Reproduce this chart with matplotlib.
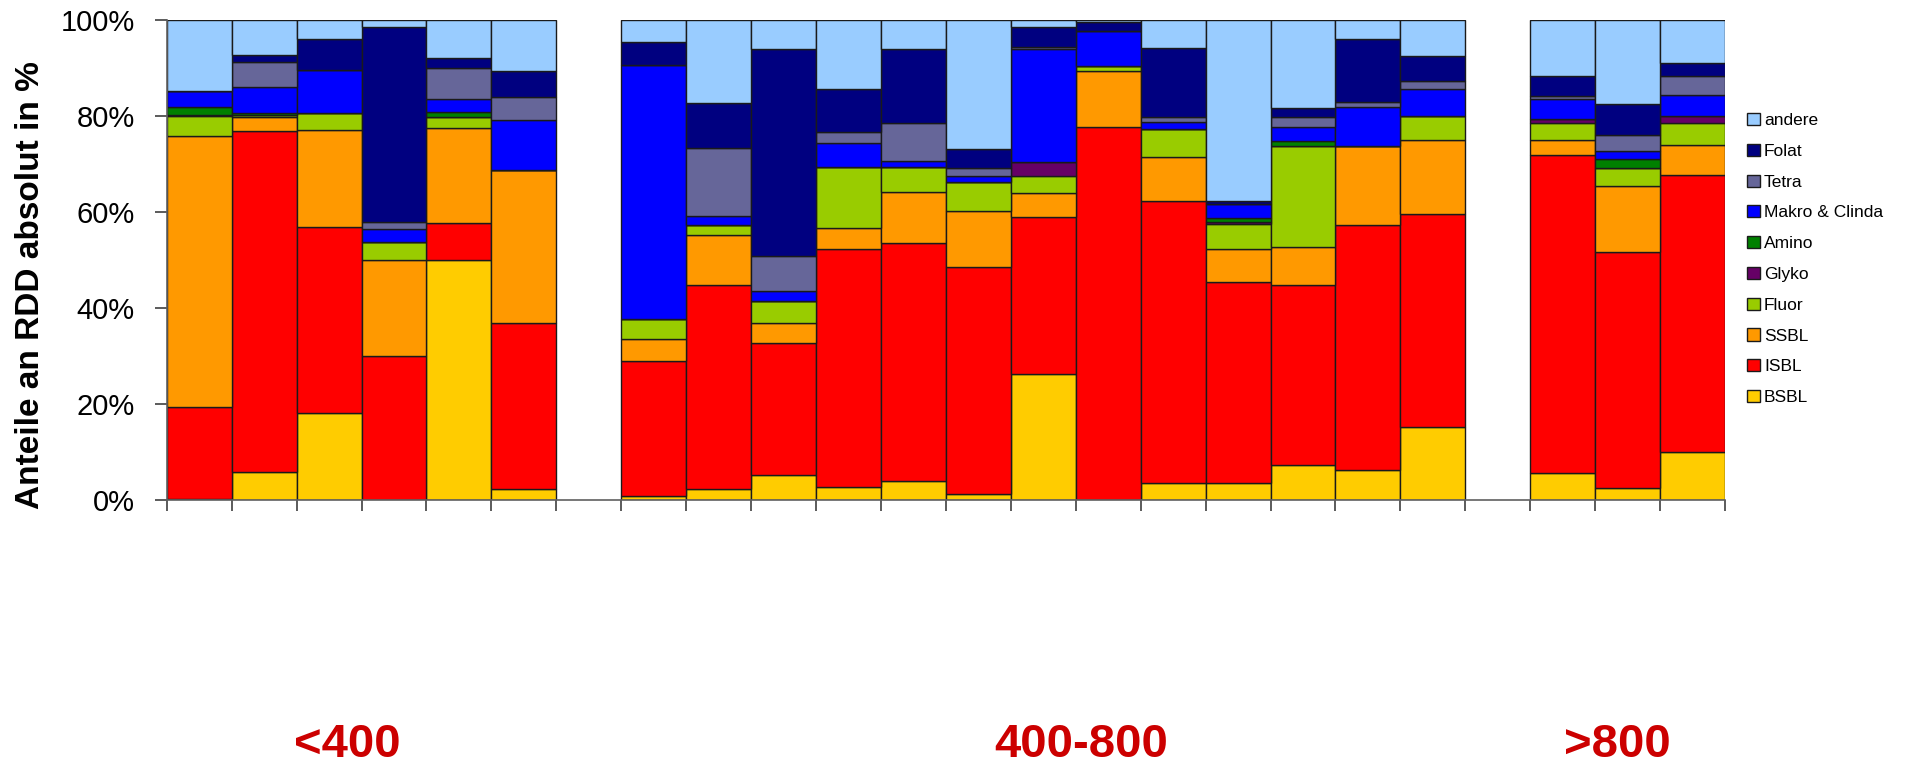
import numpy as np
import matplotlib.pyplot as plt

plt.rcParams['font.family'] = ['Liberation Sans', 'DejaVu Sans']

# slot of each bar on the category axis (6 | gap | 13 | gap | 3)
slots = [0, 1, 2, 3, 4, 5,
         7, 8, 9, 10, 11, 12, 13, 14, 15, 16, 17, 18, 19,
         21, 22, 23]

series = ['BSBL', 'ISBL', 'SSBL', 'Fluor', 'Glyko', 'Amino',
          'Makro & Clinda', 'Tetra', 'Folat', 'andere']
colors = ['#FFCC00', '#FF0000', '#FF9900', '#99CC00', '#660066', '#008000',
          '#0000FF', '#666699', '#000080', '#99CCFF']

bsbl = [0.3, 5.9, 18.2, 0, 49.9, 2.2,
        0.8, 2.2, 5.2, 2.6, 4.0, 1.3, 26.3, 0, 3.5, 3.5, 7.2, 6.3, 15.1,
        5.6, 2.4, 9.9]
isbl = [19.1, 71.0, 38.7, 30.0, 7.7, 34.6,
        28.2, 42.6, 27.4, 49.6, 49.5, 47.3, 32.6, 77.6, 58.7, 42.0, 37.5, 51.0, 44.4,
        66.3, 49.3, 57.7]
ssbl = [56.4, 2.8, 20.2, 19.9, 19.8, 32.0,
        4.5, 10.4, 4.3, 4.5, 10.6, 11.6, 5.0, 11.8, 9.3, 6.7, 7.9, 16.5, 15.4,
        3.1, 13.6, 6.4]
fluor = [4.1, 0.5, 3.6, 3.9, 2.3, 0,
         4.3, 2.1, 4.6, 12.7, 5.3, 6.1, 3.5, 0.9, 5.8, 5.2, 21.2, 0, 5.1,
         3.5, 3.8, 4.6]
glyko = [0.3, 0, 0, 0, 0, 0,
         0, 0, 0, 0, 0, 0, 2.9, 0, 0, 0.6, 0, 0, 0,
         0.8, 0, 1.3]
amino = [1.6, 0.4, 0, 0, 1.2, 0,
         0, 0, 0, 0, 0, 0, 0, 0, 0, 0.7, 0.9, 0, 0,
         0, 1.9, 0]
makro = [3.3, 5.5, 8.9, 2.7, 2.6, 10.4,
         52.8, 1.9, 2.1, 5.0, 1.3, 1.2, 23.6, 7.3, 1.4, 2.9, 2.9, 8.1, 5.6,
         4.2, 1.6, 4.5]
tetra = [0, 5.2, 0, 1.5, 6.4, 4.8,
         0, 14.2, 7.2, 2.2, 7.9, 1.6, 0.5, 0, 1.0, 0, 2.1, 1.1, 1.6,
         0.7, 3.4, 3.9]
folat = [0, 1.4, 6.4, 40.6, 2.1, 5.4,
         4.7, 9.2, 43.1, 9.0, 15.3, 4.0, 4.2, 2.0, 14.5, 0.6, 1.9, 13.0, 5.3,
         4.1, 6.5, 2.7]
andere = [14.9, 7.3, 4.0, 1.4, 8.0, 10.6,
          4.7, 17.4, 6.1, 14.4, 6.1, 26.9, 1.4, 0.4, 5.8, 37.8, 18.4, 4.0, 7.5,
          11.7, 17.5, 9.0]

groups = ['<400', '400-800', '>800']

data = [bsbl, isbl, ssbl, fluor, glyko, amino, makro, tetra, folat, andere]
vals = np.array(data, dtype=float)
vals = vals / vals.sum(axis=0) * 100

fig = plt.figure(figsize=(19.14, 7.66), dpi=100)
ax = fig.add_axes([0.0871, 0.3473, 0.9013 - 0.0871, 0.974 - 0.3473])

x = np.array(slots) + 0.5
bottom = np.zeros(len(slots))
handles = []
for name, col, v in zip(series, colors, vals):
    b = ax.bar(x, v, 1.0, bottom=bottom, color=col, edgecolor='#1a1a1a',
               linewidth=1.0, label=name)
    handles.append(b)
    bottom += v

ax.set_xlim(0, 24)
ax.set_ylim(0, 100)
ax.set_xticks(np.arange(0, 25))
ax.set_xticklabels([])
ax.set_yticks([0, 20, 40, 60, 80, 100])
ax.set_yticklabels(['0%', '20%', '40%', '60%', '80%', '100%'])
ax.tick_params(axis='y', direction='out', length=9, width=1.2, color='#404040',
               labelsize=21, pad=14)
ax.tick_params(axis='x', direction='out', length=8, width=1.2, color='#404040')
for s in ['top', 'right']:
    ax.spines[s].set_visible(False)
for s in ['left', 'bottom']:
    ax.spines[s].set_color('#606060')
    ax.spines[s].set_linewidth(1.2)

fig.text(0.016, 0.628, 'Anteile an RDD absolut in %', rotation=90,
         ha='center', va='center', fontsize=24, fontweight='bold')

ax.legend(handles[::-1], series[::-1], loc='upper left',
          bbox_to_anchor=(0.913, 1 - 113 / 766), bbox_transform=fig.transFigure,
          frameon=False, fontsize=12.5, handlelength=0.7, handleheight=0.7,
          handletextpad=0.25, labelspacing=0.9, borderpad=0, borderaxespad=0)

for g, xc in zip(groups, [347.5, 1081, 1617]):
    fig.text(xc / 1914, 0.0117, g, ha='center', va='baseline', fontsize=34,
             fontweight='bold', color='#CC0000')

fig.savefig('out.png', dpi=100)
